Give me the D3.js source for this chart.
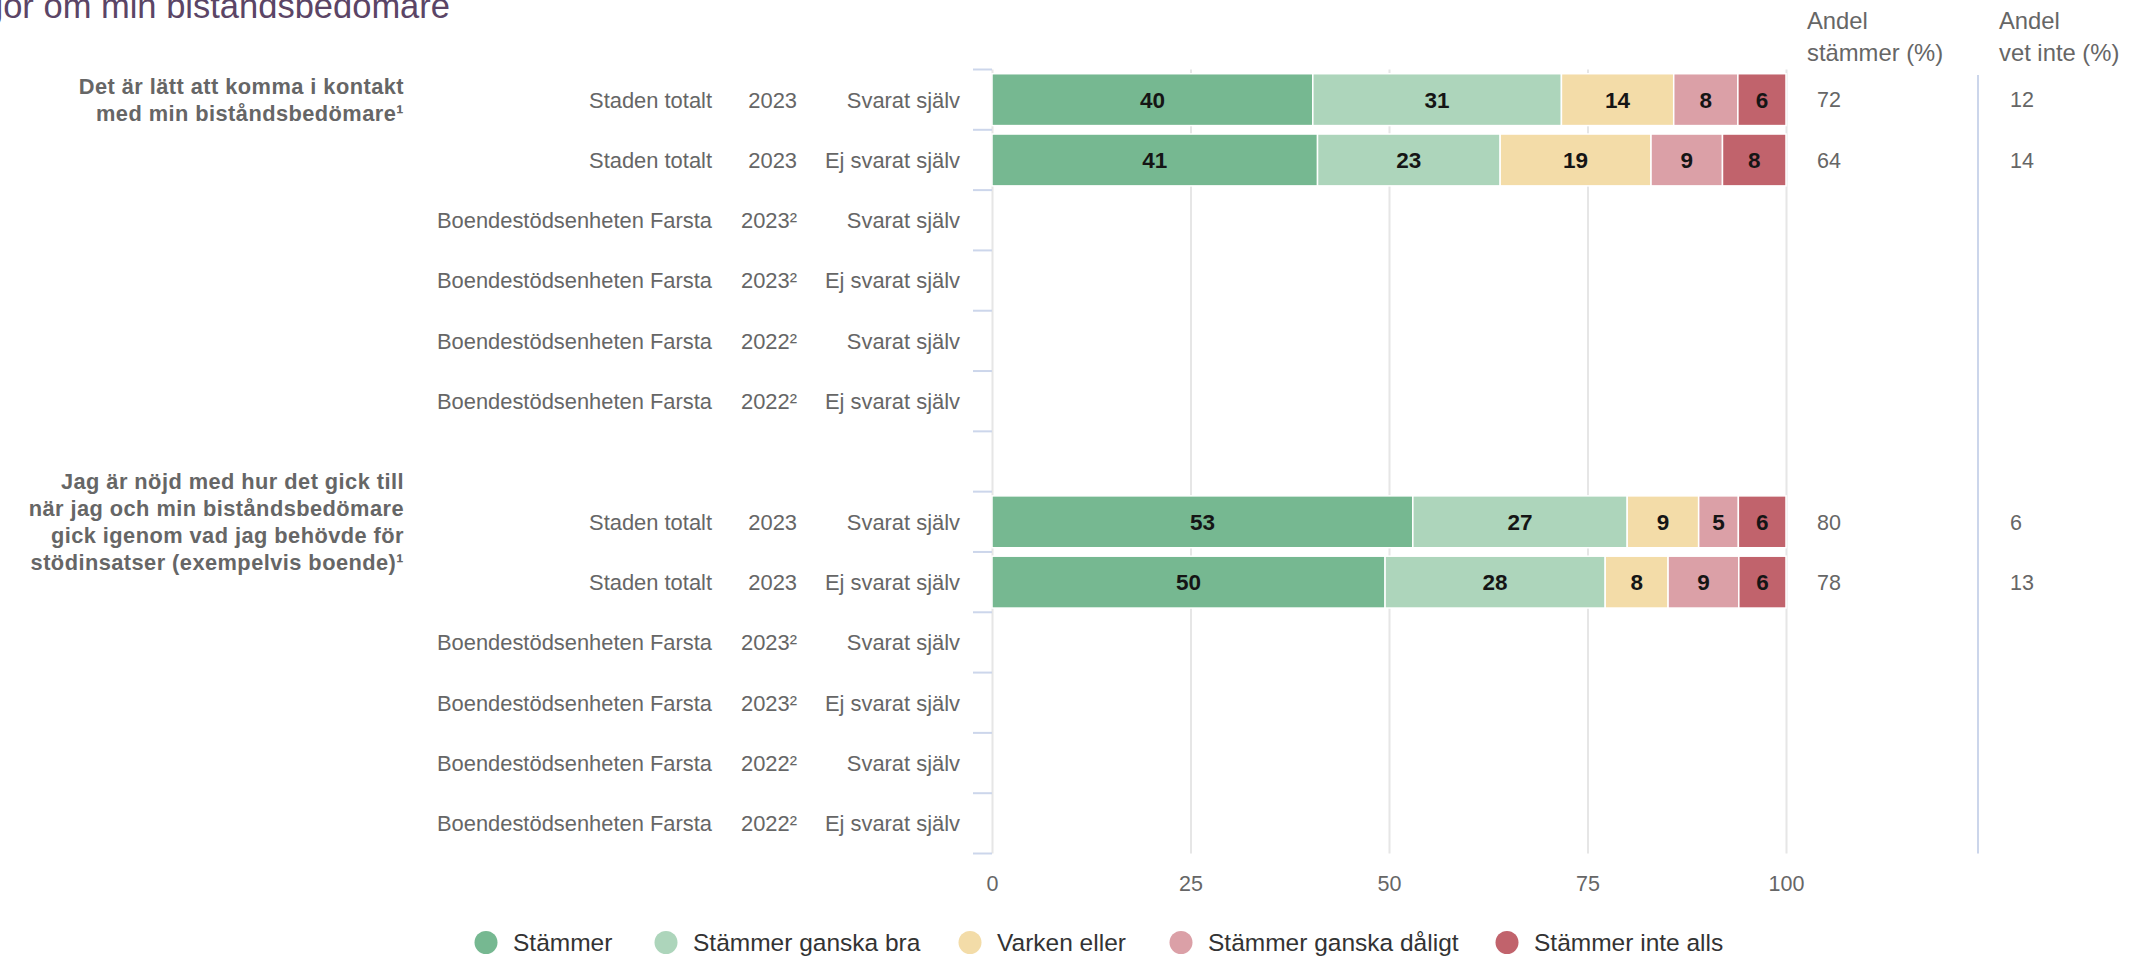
<!DOCTYPE html>
<html lang="sv">
<head>
<meta charset="utf-8">
<script src="https://cdn.jsdelivr.net/npm/d3@7/dist/d3.min.js"></script>
<style>
  html, body { margin: 0; padding: 0; background: #fff; }
  svg { display: block; font-family: "Liberation Sans", Arial, sans-serif; }
</style>
</head>
<body>
<svg id="chart" width="2138" height="961"></svg>
<script>
// ---- Data ----------------------------------------------------------------
const chartTitle = "Frågor om min biståndsbedömare";

const questions = [
  ["Det är lätt att komma i kontakt", "med min biståndsbedömare¹"],
  ["Jag är nöjd med hur det gick till", "när jag och min biståndsbedömare",
   "gick igenom vad jag behövde för", "stödinsatser (exempelvis boende)¹"]
];

// one entry per row: question index, unit, year, respondent group
const rowQuestion = [0, 0, 0, 0, 0, 0, 1, 1, 1, 1, 1, 1];
const rowUnit = [
  "Staden totalt", "Staden totalt",
  "Boendestödsenheten Farsta", "Boendestödsenheten Farsta",
  "Boendestödsenheten Farsta", "Boendestödsenheten Farsta",
  "Staden totalt", "Staden totalt",
  "Boendestödsenheten Farsta", "Boendestödsenheten Farsta",
  "Boendestödsenheten Farsta", "Boendestödsenheten Farsta"
];
const rowYear = ["2023", "2023", "2023²", "2023²", "2022²", "2022²",
                 "2023", "2023", "2023²", "2023²", "2022²", "2022²"];
const rowGroup = ["Svarat själv", "Ej svarat själv", "Svarat själv", "Ej svarat själv",
                  "Svarat själv", "Ej svarat själv", "Svarat själv", "Ej svarat själv",
                  "Svarat själv", "Ej svarat själv", "Svarat själv", "Ej svarat själv"];

const seriesNames = ["Stämmer", "Stämmer ganska bra", "Varken eller",
                     "Stämmer ganska dåligt", "Stämmer inte alls"];
const seriesColors = ["#76b891", "#add5bb", "#f3dca8", "#dba0a7", "#c1636c"];

const stammer            = [40, 41, null, null, null, null, 53, 50, null, null, null, null];
const stammerGanskaBra   = [31, 23, null, null, null, null, 27, 28, null, null, null, null];
const varkenEller        = [14, 19, null, null, null, null,  9,  8, null, null, null, null];
const stammerGanskaDalig = [ 8,  9, null, null, null, null,  5,  9, null, null, null, null];
const stammerInteAlls    = [ 6,  8, null, null, null, null,  6,  6, null, null, null, null];

const andelStammer = [72, 64, null, null, null, null, 80, 78, null, null, null, null];
const andelVetInte = [12, 14, null, null, null, null,  6, 13, null, null, null, null];

const xTickValues = [0, 25, 50, 75, 100];
const colHeaders = [["Andel", "stämmer (%)"], ["Andel", "vet inte (%)"]];

// ---- Layout --------------------------------------------------------------
const plot = { left: 992, right: 1786, top: 69.5, bottom: 853.5 };
const font = "'Liberation Sans', Arial, sans-serif";
const grey = "#666666";

const svg = d3.select("#chart");

// 13 slots: six rows per question with an empty slot between the blocks
const slotOf = i => (i < 6 ? i : i + 1);
const y = d3.scaleBand()
  .domain(d3.range(13))
  .range([plot.top, plot.bottom])
  .paddingInner(0.14)
  .paddingOuter(0.07);
const x = d3.scaleLinear().domain([0, 100]).range([plot.left, plot.right]);
const yc = i => y(slotOf(i)) + y.bandwidth() / 2;

// ---- Title (runs past the left edge) ------------------------------------
svg.append("text")
  .attr("x", 450).attr("y", 18)
  .attr("text-anchor", "end")
  .attr("font-size", 34.5)
  .attr("fill", "#5b4566")
  .text(chartTitle);

// ---- Value axis with grid ----------------------------------------------
const xAxis = svg.append("g")
  .attr("transform", `translate(0,${plot.bottom})`)
  .call(d3.axisBottom(x).tickValues(xTickValues)
    .tickSize(-(plot.bottom - plot.top)).tickPadding(22));
xAxis.select(".domain").remove();
xAxis.selectAll(".tick line").attr("stroke", "#e6e6e6").attr("stroke-width", 2);
xAxis.selectAll(".tick text")
  .attr("font-family", font).attr("font-size", 21.5).attr("fill", grey);

// category axis: ticks on band boundaries
const boundaries = d3.range(14).map(k => plot.top + k * y.step());
svg.append("g").selectAll("line").data(boundaries).join("line")
  .attr("x1", plot.left - 19).attr("x2", plot.left)
  .attr("y1", d => d).attr("y2", d => d)
  .attr("stroke", "#ccd6eb").attr("stroke-width", 2);

// ---- Stacked bars (percent stacking) -----------------------------------
const table = d3.range(12)
  .filter(i => stammer[i] != null)
  .map(i => ({
    row: i,
    "Stämmer": stammer[i],
    "Stämmer ganska bra": stammerGanskaBra[i],
    "Varken eller": varkenEller[i],
    "Stämmer ganska dåligt": stammerGanskaDalig[i],
    "Stämmer inte alls": stammerInteAlls[i]
  }));
const stacked = d3.stack().keys(seriesNames).offset(d3.stackOffsetExpand)(table);

const layers = svg.append("g").selectAll("g").data(stacked).join("g")
  .attr("fill", (d, i) => seriesColors[i]);

layers.selectAll("rect").data(d => d.map(s => ({ s, key: d.key }))).join("rect")
  .attr("x", d => x(d.s[0] * 100))
  .attr("width", d => x(d.s[1] * 100) - x(d.s[0] * 100))
  .attr("y", d => y(slotOf(d.s.data.row)))
  .attr("height", y.bandwidth())
  .attr("stroke", "#fff").attr("stroke-width", 1.5);

layers.selectAll("text").data(d => d.map(s => ({ s, key: d.key }))).join("text")
  .attr("x", d => x((d.s[0] + d.s[1]) * 50))
  .attr("y", d => yc(d.s.data.row))
  .attr("dy", "0.36em")
  .attr("text-anchor", "middle")
  .attr("font-size", 22.5).attr("font-weight", "bold")
  .attr("fill", "#151515")
  .text(d => d.s.data[d.key]);

// ---- Row labels ---------------------------------------------------------
const labelCols = [
  { x: 712, values: rowUnit },
  { x: 797, values: rowYear },
  { x: 960, values: rowGroup }
];
labelCols.forEach(col => {
  svg.append("g").selectAll("text").data(col.values).join("text")
    .attr("x", col.x)
    .attr("y", (d, i) => yc(i))
    .attr("dy", "0.36em")
    .attr("text-anchor", "end")
    .attr("font-size", 21.9).attr("fill", grey)
    .text(d => d);
});

// question labels, centred on the first row of each block
questions.forEach((lines, q) => {
  const first = rowQuestion.indexOf(q);
  const cy = yc(first);
  const lh = 27;
  const t = svg.append("text")
    .attr("text-anchor", "end")
    .attr("font-size", 21.8)
    .attr("font-weight", "bold")
    .attr("letter-spacing", 0.45)
    .attr("fill", grey);
  lines.forEach((line, k) => {
    t.append("tspan")
      .attr("x", 404)
      .attr("y", cy + (k - (lines.length - 1) / 2) * lh)
      .attr("dy", "0.36em")
      .text(line);
  });
});

// ---- Side columns -------------------------------------------------------
const sideCols = [
  { x: 1817, hx: 1807, values: andelStammer },
  { x: 2010, hx: 1999, values: andelVetInte }
];
sideCols.forEach((col, c) => {
  const h = svg.append("text")
    .attr("font-size", 23.8).attr("fill", grey);
  colHeaders[c].forEach((line, k) => {
    h.append("tspan").attr("x", col.hx).attr("y", 20.5 + k * 31.5)
      .attr("dy", "0.36em").text(line);
  });
  svg.append("g").selectAll("text").data(col.values).join("text")
    .attr("x", col.x)
    .attr("y", (d, i) => yc(i))
    .attr("dy", "0.36em")
    .attr("font-size", 21.5).attr("fill", grey)
    .text(d => (d == null ? "" : d));
});

// separator between the two side columns
svg.append("line")
  .attr("x1", 1978).attr("x2", 1978)
  .attr("y1", 75).attr("y2", plot.bottom)
  .attr("stroke", "#ccd6eb").attr("stroke-width", 2);

// ---- Legend -------------------------------------------------------------
const legendY = 942.5, r = 11.5, textGap = 27;
const legendX = [486, 666, 970, 1181, 1507];
const items = svg.append("g").selectAll("g").data(seriesNames).join("g")
  .attr("transform", (d, i) => `translate(${legendX[i]},0)`);
items.append("circle").attr("r", r).attr("cy", legendY)
  .attr("fill", (d, i) => seriesColors[i]);
items.append("text").attr("x", textGap).attr("y", legendY).attr("dy", "0.36em")
  .attr("font-size", 24.5).attr("fill", "#333")
  .text(d => d);
</script>
</body>
</html>
